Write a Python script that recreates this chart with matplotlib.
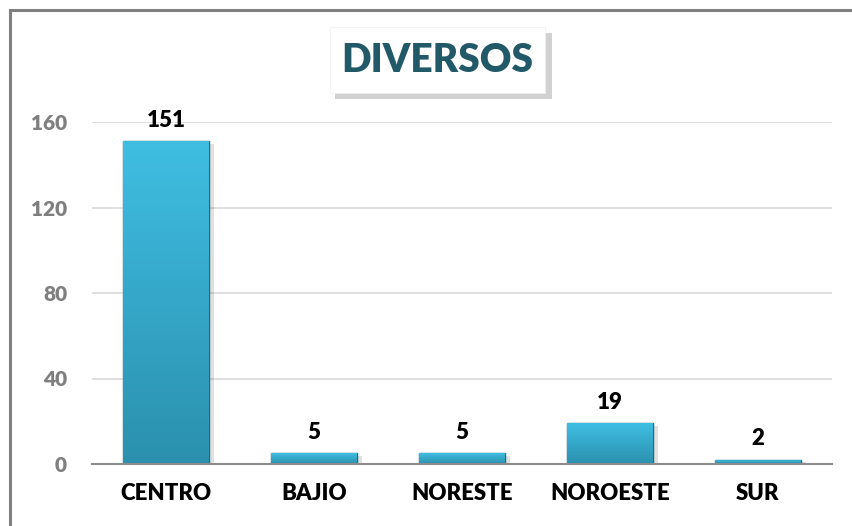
import numpy as np
import matplotlib
matplotlib.use("Agg")
import matplotlib.pyplot as plt
from matplotlib.patches import Rectangle

# datos del grafico
regiones = ["CENTRO", "BAJIO", "NORESTE", "NOROESTE", "SUR"]
valores = [151, 5, 5, 19, 2]
ticks_y = [0, 40, 80, 120, 160]

plt.rcParams['font.family'] = ['Lato', 'DejaVu Sans']

W, H = 852, 526
fig = plt.figure(figsize=(W / 100, H / 100), dpi=100)
ax = fig.add_axes([92 / W, 1 - 464 / H, 740 / W, (464 - 122) / H])

x = np.arange(len(regiones))
ancho = 0.575

# sombra de las barras
ax.bar(x + 0.04, valores, width=ancho, bottom=-1.2, color="#000000", alpha=0.12, zorder=2)

barras = ax.bar(x, valores, width=ancho, color="#36AFD0", edgecolor="#1E6A80",
                linewidth=1.0, zorder=3)

# degradado vertical dentro de cada barra
grad = np.linspace(0, 1, 256).reshape(-1, 1)
cmap = matplotlib.colors.LinearSegmentedColormap.from_list("azul", ["#2B90AE", "#3FBEE2"])
for b in barras:
    bx, by = b.get_x(), b.get_y()
    bw, bh = b.get_width(), b.get_height()
    im = ax.imshow(grad, cmap=cmap, aspect="auto", origin="lower",
                   extent=[bx, bx + bw, by, by + bh], zorder=3.5)
    im.set_clip_path(b)

for xi, v in zip(x, valores):
    ax.text(xi, v + 5, str(v), ha="center", va="bottom", fontsize=16,
            fontweight="heavy", color="black", zorder=5)

ax.set_xlim(-0.5, len(regiones) - 0.5)
ax.set_ylim(0, 160)
ax.set_yticks(ticks_y)
ax.set_yticklabels([str(t) for t in ticks_y], fontsize=15, fontweight="heavy", color="#7F7F7F")
ax.set_xticks(x)
ax.set_xticklabels(regiones, fontsize=16, fontweight="heavy", color="black")
ax.tick_params(axis="y", length=0, pad=18)
ax.tick_params(axis="x", length=0, pad=14)
ax.grid(axis="y", color="#D9D9D9", linewidth=1.2, zorder=0)
ax.set_axisbelow(True)
for s in ["top", "right", "left"]:
    ax.spines[s].set_visible(False)
ax.spines["bottom"].set_color("#8C8C8C")
ax.spines["bottom"].set_linewidth(1.5)
ax.spines["bottom"].set_zorder(4)

# marco exterior (solo arriba e izquierda visibles)
fig.patches.append(Rectangle((9.5 / W, -0.1), 1.2, 1 - 9.5 / H + 0.1, transform=fig.transFigure,
                             fill=False, edgecolor="#808080", linewidth=2.2))

# caja del titulo con sombra
fig.patches.append(Rectangle((335 / W, 1 - 99 / H), 217 / W, 66 / H, transform=fig.transFigure,
                             facecolor="#000000", alpha=0.18, edgecolor="none"))
fig.patches.append(Rectangle((330 / W, 1 - 93 / H), 215 / W, 66 / H, transform=fig.transFigure,
                             facecolor="white", edgecolor="#F0F0F0", linewidth=0.5))
fig.text(437 / W, 1 - 60 / H, "DIVERSOS", ha="center", va="center", fontsize=28,
         fontweight="heavy", color="#215968")

fig.savefig("out.png", dpi=100)
